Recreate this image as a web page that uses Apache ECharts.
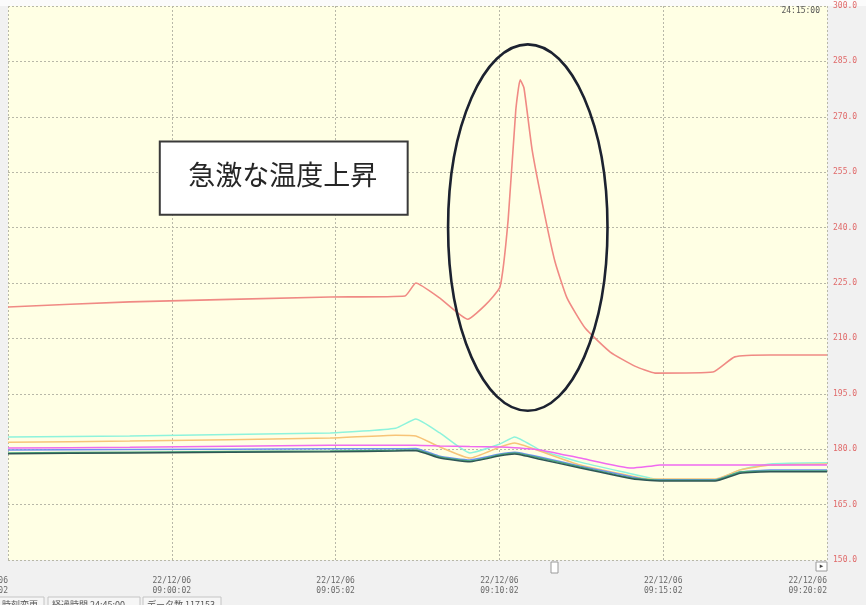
<!DOCTYPE html>
<html>
<head>
<meta charset="utf-8">
<script src="https://cdn.jsdelivr.net/npm/echarts@6/dist/echarts.min.js"></script>
<style>
  html, body { margin: 0; padding: 0; background: #f1f1f1; }
  #chart { width: 866px; height: 605px; }
</style>
</head>
<body>
<div id="chart"></div>
<script>
// Recorder trend: furnace temperature (red) and six lower channels, 08:55:02 – 09:20:02
const startClock = '08:55:02';
const xTickLabels = ['22/12/06\n08:55:02', '22/12/06\n09:00:02', '22/12/06\n09:05:02',
                     '22/12/06\n09:10:02', '22/12/06\n09:15:02', '22/12/06\n09:20:02'];
const yTicks = [150, 165, 180, 195, 210, 225, 240, 255, 270, 285, 300];

// Main temperature channel
const mainTimes = ['08:55:02', '08:58:45', '09:04:52', '09:07:09', '09:07:29', '09:08:13', '09:09:04',
                   '09:09:36', '09:10:03', '09:10:18', '09:10:32', '09:10:40', '09:10:47', '09:11:02',
                   '09:11:25', '09:11:44', '09:12:06', '09:12:39', '09:13:25', '09:14:10', '09:14:47',
                   '09:16:33', '09:17:13', '09:18:18', '09:20:02'];
const mainValues = [218.5, 219.9, 221.2, 221.5, 225.0, 220.9, 215.2,
                    219.0, 223.9, 242.1, 271.8, 280.0, 277.8, 261.0,
                    243.4, 230.7, 220.9, 212.8, 206.3, 202.5, 200.6,
                    200.9, 205.0, 205.5, 205.5];

// Lower channels share one time base
const lowTimes = ['08:55:02', '08:58:45', '09:04:52', '09:06:52', '09:07:29', '09:08:13', '09:09:08',
                  '09:10:03', '09:10:30', '09:11:16', '09:12:30', '09:14:05', '09:14:38', '09:14:56',
                  '09:16:37', '09:17:23', '09:18:18', '09:20:02'];
const cyanValues   = [183.3, 183.6, 184.4, 185.7, 188.2, 184.4, 179.0, 181.4, 183.3, 179.8, 176.5, 173.3, 172.2, 171.7, 171.7, 174.4, 176.0, 176.3];
const orangeValues = [181.9, 182.2, 183.0, 183.8, 183.6, 180.6, 177.6, 180.6, 181.7, 179.5, 175.7, 172.7, 171.9, 171.9, 171.9, 174.4, 175.7, 176.0];
const pinkValues   = [180.3, 180.5, 181.1, 181.1, 181.1, 180.9, 180.7, 180.6, 180.4, 179.8, 177.6, 174.9, 175.4, 175.7, 175.7, 175.7, 175.7, 175.7];
const blueValues   = [179.8, 179.9, 180.1, 180.1, 180.2, 178.1, 177.1, 178.7, 179.2, 177.9, 175.4, 172.5, 171.7, 171.7, 171.7, 173.8, 174.4, 174.4];
const greenValues  = [179.0, 179.2, 179.5, 179.7, 179.8, 177.9, 176.8, 178.5, 179.0, 177.6, 175.2, 172.2, 171.7, 171.6, 171.6, 173.8, 174.1, 174.1];
const darkValues   = [178.8, 179.0, 179.3, 179.5, 179.6, 177.6, 176.6, 178.2, 178.7, 177.3, 174.9, 172.0, 171.5, 171.4, 171.4, 173.5, 173.9, 173.9];

function toSec(clock) {
  const p = clock.split(':').map(Number);
  const s = startClock.split(':').map(Number);
  return (p[0] * 3600 + p[1] * 60 + p[2]) - (s[0] * 3600 + s[1] * 60 + s[2]);
}
function pairs(times, values) {
  return times.map((t, i) => [toSec(t), values[i]]);
}

const chart = echarts.init(document.getElementById('chart'), null, { renderer: 'canvas' });

function line(name, color, times, values, width) {
  return {
    name, type: 'line', data: pairs(times, values), symbol: 'none', smooth: 0.15,
    lineStyle: { color, width: width || 1.5 }, z: 3
  };
}

const option = {
  animation: false,
  backgroundColor: '#f1f1f1',
  grid: {
    left: 8, right: 39, top: 6, bottom: 45,
    containLabel: false, outerBoundsMode: 'none',
    show: true, backgroundColor: '#ffffe4', borderWidth: 0
  },
  xAxis: {
    type: 'value', min: 0, max: 1500, interval: 300,
    axisLine: { show: false }, axisTick: { show: false },
    axisLabel: {
      color: '#6a6a6a', fontSize: 8, fontFamily: 'DejaVu Sans Mono', lineHeight: 10, margin: 16,
      alignMinLabel: 'right', alignMaxLabel: 'right', hideOverlap: false,
      formatter: (v) => xTickLabels[Math.round(v / 300)]
    },
    splitLine: { show: true, lineStyle: { color: '#b8b8a8', type: [2, 2], width: 1 } }
  },
  yAxis: {
    type: 'value', position: 'right', min: yTicks[0], max: yTicks[yTicks.length - 1], interval: 15,
    axisLine: { show: false }, axisTick: { show: false },
    axisLabel: {
      color: '#e06a6a', fontSize: 8, fontFamily: 'DejaVu Sans Mono', margin: 6,
      formatter: (v) => v.toFixed(1)
    },
    splitLine: { show: true, lineStyle: { color: '#b8b8a8', type: [2, 2], width: 1 } }
  },
  series: [
    line('ch2', '#8ef3dc', lowTimes, cyanValues),
    line('ch3', '#f7c477', lowTimes, orangeValues),
    line('ch4', '#6f8ff0', lowTimes, blueValues),
    line('ch5', '#4aa87a', lowTimes, greenValues),
    line('ch6', '#2f5656', lowTimes, darkValues),
    line('ch7', '#f06af0', lowTimes, pinkValues),
    line('ch1', '#f08a84', mainTimes, mainValues, 1.6)
  ]
};
chart.setOption(option);

// Annotations: callout box and ellipse around the spike, placed in data space
const calloutCenter = [toSec('09:10:54'), 240];
const calloutHalf = [146, 49.6];
const boxCorners = [[toSec('08:59:40'), 263.3], [toSec('09:07:14'), 243.5]];

const c = chart.convertToPixel({ gridIndex: 0 }, calloutCenter);
const e = chart.convertToPixel({ gridIndex: 0 }, [calloutCenter[0] + calloutHalf[0], calloutCenter[1] + calloutHalf[1]]);
const b0 = chart.convertToPixel({ gridIndex: 0 }, boxCorners[0]);
const b1 = chart.convertToPixel({ gridIndex: 0 }, boxCorners[1]);

chart.setOption({
  graphic: [
    { type: 'rect', shape: { x: 0, y: 0, width: 866, height: 6 }, style: { fill: '#fbfbfb' }, z: 0, silent: true },
    {
      type: 'ellipse', shape: { cx: c[0], cy: c[1], rx: e[0] - c[0], ry: c[1] - e[1] },
      style: { fill: 'none', stroke: '#1c2230', lineWidth: 2.6 }, z: 10
    },
    {
      type: 'rect', shape: { x: b0[0], y: b0[1], width: b1[0] - b0[0], height: b1[1] - b0[1] },
      style: { fill: '#ffffff', stroke: '#3a3a3a', lineWidth: 2 }, z: 10
    },
    {
      type: 'text', x: (b0[0] + b1[0]) / 2 - 1, y: (b0[1] + b1[1]) / 2 - 3,
      style: { text: '急激な温度上昇', fill: '#262626', font: '27px "Noto Sans CJK JP"', align: 'center', verticalAlign: 'middle' },
      z: 11
    },
    {
      type: 'text', x: 820, y: 11,
      style: { text: '24:15:00', fill: '#555555', font: '8px "DejaVu Sans Mono"', align: 'right', verticalAlign: 'middle' },
      z: 11
    },
    // scroll bar thumb and arrow button
    { type: 'rect', shape: { x: 551, y: 562, width: 7, height: 11 }, style: { fill: '#ffffff', stroke: '#9a9a9a', lineWidth: 1 }, z: 11 },
    { type: 'rect', shape: { x: 816, y: 562, width: 11, height: 9 }, style: { fill: '#ffffff', stroke: '#9a9a9a', lineWidth: 1 }, z: 11 },
    { type: 'text', x: 821.5, y: 566.5, style: { text: '▸', fill: '#444', font: '7px "DejaVu Sans"', align: 'center', verticalAlign: 'middle' }, z: 12 },
    // status tabs along the bottom edge
    { type: 'rect', shape: { x: -2, y: 597, width: 46, height: 12 }, style: { fill: '#f6f6f6', stroke: '#c4c4c4', lineWidth: 1 }, z: 11 },
    { type: 'rect', shape: { x: 48, y: 597, width: 92, height: 12 }, style: { fill: '#f6f6f6', stroke: '#c4c4c4', lineWidth: 1 }, z: 11 },
    { type: 'rect', shape: { x: 143, y: 597, width: 78, height: 12 }, style: { fill: '#f6f6f6', stroke: '#c4c4c4', lineWidth: 1 }, z: 11 },
    { type: 'text', x: 2, y: 605, style: { text: '時刻変更', fill: '#555', font: '9px "Noto Sans CJK JP"', verticalAlign: 'middle' }, z: 12 },
    { type: 'text', x: 52, y: 605, style: { text: '経過時間 24:45:00', fill: '#555', font: '9px "Noto Sans CJK JP"', verticalAlign: 'middle' }, z: 12 },
    { type: 'text', x: 147, y: 605, style: { text: 'データ数 117153', fill: '#555', font: '9px "Noto Sans CJK JP"', verticalAlign: 'middle' }, z: 12 }
  ]
});
</script>
</body>
</html>
